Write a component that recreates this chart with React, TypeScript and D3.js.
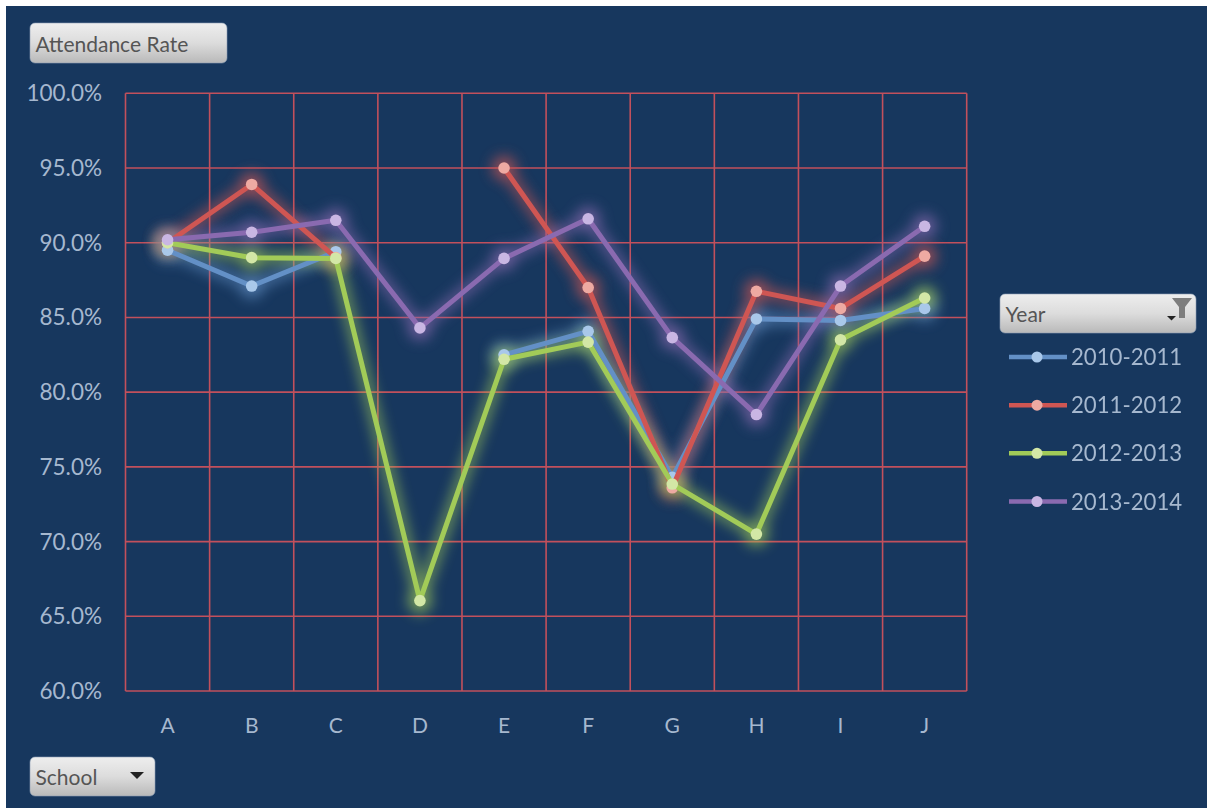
import React from "react";
import * as d3 from "d3";

const schools = ["A", "B", "C", "D", "E", "F", "G", "H", "I", "J"];
const years = ["2010-2011", "2011-2012", "2012-2013", "2013-2014"];
const v1011: (number | null)[] = [89.5, 87.1, 89.4, null, 82.5, 84.07, 74.3, 84.9, 84.8, 85.6];
const v1112: (number | null)[] = [90.0, 93.9, 89.0, null, 95.0, 87.0, 73.6, 86.75, 85.6, 89.1];
const v1213: (number | null)[] = [90.0, 89.0, 88.95, 66.05, 82.2, 83.35, 73.85, 70.5, 83.5, 86.3];
const v1314: (number | null)[] = [90.2, 90.7, 91.5, 84.3, 88.95, 91.6, 83.65, 78.5, 87.1, 91.1];
const seriesValues = [v1011, v1112, v1213, v1314];
const lineColors = ["#6490c6", "#cf5653", "#a2cb58", "#8a6bb0"];
const markerColors = ["#a9c8ea", "#eeaaa2", "#d3e7a6", "#c9b6e3"];
const yTicks = [60, 65, 70, 75, 80, 85, 90, 95, 100];

const W = 1207, H = 808;
const left = 125.5, right = 966.7, top = 93.3, bottom = 691;
const font = "Lato, 'Open Sans', sans-serif";
const axisText = "#a6b8cf";
const btnText = "#555555";

function Button({ x, y, w, h, label }: { x: number; y: number; w: number; h: number; label: string }) {
  return (
    <g>
      <rect x={x} y={y} width={w} height={h} rx={5} fill="url(#btn)" stroke="#8d9fb6" strokeWidth={0.6} />
      <text x={x + 5.5} y={y + h / 2 + 8.5} fontFamily={font} fontSize={21} fill={btnText}>{label}</text>
    </g>
  );
}

export default function App() {
  const x = d3.scaleBand<string>().domain(schools).range([left, right]);
  const y = d3.scaleLinear().domain([60, 100]).range([bottom, top]);
  const cx = (s: string) => (x(s) as number) + x.bandwidth() / 2;
  const lineGen = d3
    .line<number | null>()
    .defined((d) => d !== null)
    .x((_, i) => cx(schools[i]))
    .y((d) => y(d as number));
  const legendY = d3.scalePoint<string>().domain(years).range([357, 501.5]);

  return (
    <svg width={W} height={H} style={{ position: "absolute", left: 0, top: 0, background: "#fff" }}>
      <defs>
        <linearGradient id="btn" x1="0" y1="0" x2="0" y2="1">
          <stop offset="0" stopColor="#eeeeee" />
          <stop offset="0.5" stopColor="#dcdcdc" />
          <stop offset="1" stopColor="#b9b9b9" />
        </linearGradient>
        <filter id="glow" filterUnits="userSpaceOnUse" x={0} y={0} width={W} height={H}>
          <feGaussianBlur stdDeviation={7} />
        </filter>
        <filter id="soft" filterUnits="userSpaceOnUse" x={0} y={0} width={W} height={H}>
          <feGaussianBlur stdDeviation={0.5} />
        </filter>
      </defs>
      <rect x={6} y={6} width={W - 6} height={H - 6} fill="#17375e" />

      <g stroke="#c2505c" strokeWidth={1.6} fill="none">
        {yTicks.map((t) => (
          <line key={t} x1={left} x2={right} y1={y(t)} y2={y(t)} />
        ))}
        {[...schools.map((s) => x(s) as number), right].map((p, i) => (
          <line key={i} x1={p} x2={p} y1={top} y2={bottom} />
        ))}
      </g>

      {yTicks.map((t) => (
        <text key={t} x={102} y={y(t) + 8} textAnchor="end" fontFamily={font} fontSize={22.5} fill={axisText}>
          {t.toFixed(1)}%
        </text>
      ))}
      {schools.map((s) => (
        <text key={s} x={cx(s)} y={733} textAnchor="middle" fontFamily={font} fontSize={21} fill={axisText}>
          {s}
        </text>
      ))}

      {seriesValues.map((vals, k) => (
        <g key={"glow" + k} filter="url(#glow)" opacity={0.7}>
          <path d={lineGen(vals) ?? ""} fill="none" stroke={lineColors[k]} strokeWidth={10} />
          {vals.map((v, i) =>
            v === null ? null : <circle key={i} cx={cx(schools[i])} cy={y(v)} r={12} fill={lineColors[k]} />
          )}
        </g>
      ))}
      {seriesValues.map((vals, k) => (
        <g key={k} filter="url(#soft)">
          <path d={lineGen(vals) ?? ""} fill="none" stroke={lineColors[k]} strokeWidth={5} strokeLinejoin="round" />
          {vals.map((v, i) =>
            v === null ? null : <circle key={i} cx={cx(schools[i])} cy={y(v)} r={5.8} fill={markerColors[k]} />
          )}
        </g>
      ))}

      <Button x={30} y={23} w={197} h={40} label="Attendance Rate" />
      <Button x={30} y={757} w={125} h={39} label="School" />
      <path d="M130,772 h14 l-7,7 z" fill="#222" />
      <Button x={1000} y={294} w={196} h={39} label="Year" />
      <path d="M1167,316 h9 l-4.5,4.5 z" fill="#222" />
      <path d="M1172,298 h20 l-7,9 v11 h-6 v-11 z" fill="#7d7d7d" />

      {years.map((yr, k) => {
        const ly = legendY(yr) as number;
        return (
          <g key={yr} filter="url(#soft)">
            <line x1={1009} x2={1067} y1={ly} y2={ly} stroke={lineColors[k]} strokeWidth={4.5} />
            <circle cx={1037} cy={ly} r={5.5} fill={markerColors[k]} />
            <text x={1071} y={ly + 8} fontFamily={font} fontSize={22.2} fill={axisText}>{yr}</text>
          </g>
        );
      })}
    </svg>
  );
}
